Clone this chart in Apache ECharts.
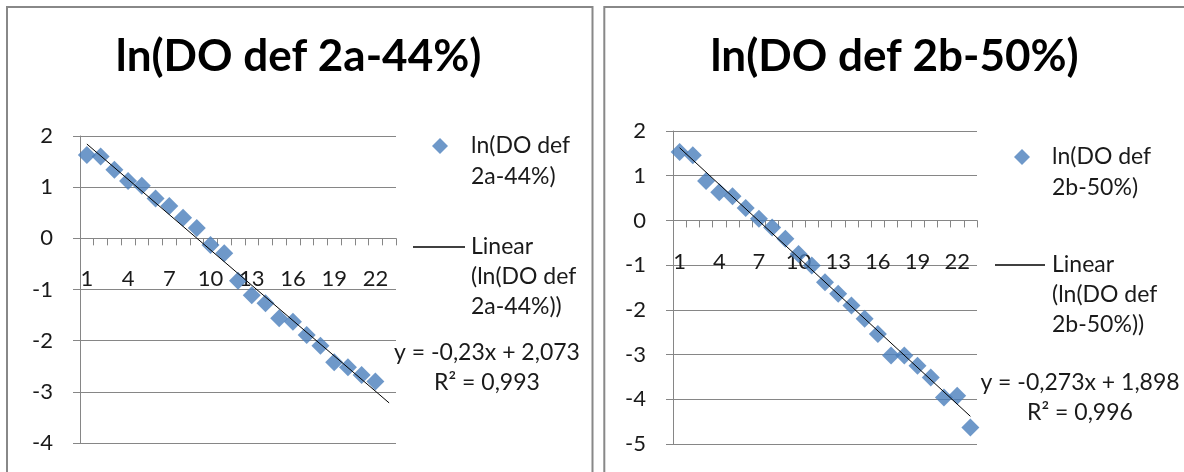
<!DOCTYPE html>
<html>
<head>
<meta charset="utf-8">
<script src="https://cdn.jsdelivr.net/npm/echarts@6/dist/echarts.min.js"></script>
<style>html,body{margin:0;padding:0;background:#fff}#c{width:1184px;height:472px}</style>
</head>
<body>
<div id="c"></div>
<script>
// ---- data ----
const categories = ['1','2','3','4','5','6','7','8','9','10','11','12','13','14','15','16','17','18','19','20','21','22','23'];
const titleA = 'ln(DO def 2a-44%)';
const titleB = 'ln(DO def 2b-50%)';
const seriesNameA = 'ln(DO def\n2a-44%)';
const seriesNameB = 'ln(DO def\n2b-50%)';
const trendNameA = 'Linear\n(ln(DO def\n2a-44%))';
const trendNameB = 'Linear\n(ln(DO def\n2b-50%))';
const valuesA = [1.63, 1.60, 1.34, 1.12, 1.03, 0.78, 0.63, 0.40, 0.20, -0.13, -0.29, -0.83, -1.11, -1.27, -1.56, -1.63, -1.89, -2.10, -2.42, -2.52, -2.67, -2.80];
const valuesB = [1.53, 1.46, 0.88, 0.63, 0.54, 0.28, 0.04, -0.16, -0.41, -0.75, -1.01, -1.38, -1.64, -1.90, -2.20, -2.54, -3.02, -3.02, -3.25, -3.51, -3.96, -3.92, -4.63];
const trendA = [['1', 1.843], ['23', -3.217]];
const trendB = [['1', 1.625], ['23', -4.381]];
const equationA = 'y = -0,23x + 2,073\nR² = 0,993';
const equationB = 'y = -0,273x + 1,898\nR² = 0,996';
const yRangeA = [-4, 2];
const yRangeB = [-5, 2];

// ---- styles / layout ----
const FONT = 'Lato';
const GRAY = '#868686';
const BLUE = '#4A7EBB';
const TXT = '#1a1a1a';
const gridA = { left: 80, top: 136, width: 316, height: 307 };
const gridB = { left: 673, top: 131, width: 304, height: 313 };

function zeroOffset(grid, range) {
  // distance from the grid bottom to the y = 0 line (negative = upward)
  return -grid.height * (0 - range[0]) / (range[1] - range[0]);
}
function xAxisFor(gridIndex, grid, range) {
  return {
    type: 'category', gridIndex, data: categories, boundaryGap: true,
    position: 'bottom', offset: zeroOffset(grid, range),
    axisLine: { onZero: false, lineStyle: { color: GRAY, width: 1 } },
    axisTick: { show: true, interval: 0, length: 7, lineStyle: { color: GRAY } },
    axisLabel: { interval: 2, margin: 30, color: TXT, fontFamily: FONT, fontSize: 22 },
    splitLine: { show: false }
  };
}
function yAxisFor(gridIndex, range) {
  return {
    type: 'value', gridIndex, min: range[0], max: range[1], interval: 1,
    axisLine: { show: true, lineStyle: { color: GRAY, width: 1 } },
    axisTick: { show: true, length: 7, lineStyle: { color: GRAY } },
    axisLabel: { margin: 27, color: TXT, fontFamily: FONT, fontSize: 22 },
    splitLine: { show: true, lineStyle: { color: GRAY, width: 1 } }
  };
}
function legendItem(name, icon, left, top, w, h, lines, padLeft, lh) {
  let lead = '';
  for (let k = 1; k < lines; k++) lead += '\n';
  return {
    left, top, padding: 0, orient: 'vertical', itemWidth: w, itemHeight: h,
    selectedMode: false,
    formatter: n => lead + n,
    data: [{ name, icon, textStyle: { padding: [0, 0, 0, padLeft] } }],
    textStyle: { fontFamily: FONT, fontSize: 23, color: TXT, lineHeight: lh }
  };
}

const chart = echarts.init(document.getElementById('c'), null, { renderer: 'canvas' });
chart.setOption({
  backgroundColor: '#fff',
  animation: false,
  title: [
    { text: titleA, left: 293.5, top: 30, textAlign: 'center',
      textStyle: { fontFamily: FONT, fontWeight: 'bold', fontSize: 44, color: '#000' } },
    { text: titleB, left: 889.5, top: 30, textAlign: 'center',
      textStyle: { fontFamily: FONT, fontWeight: 'bold', fontSize: 44, color: '#000' } }
  ],
  grid: [gridA, gridB],
  xAxis: [xAxisFor(0, gridA, yRangeA), xAxisFor(1, gridB, yRangeB)],
  yAxis: [yAxisFor(0, yRangeA), yAxisFor(1, yRangeB)],
  legend: [
    legendItem(seriesNameA, 'diamond', 432, 99.5, 16, 16, 2, 18, 31),
    legendItem(trendNameA, 'rect', 413, 172, 52, 1.5, 3, 1, 30),
    legendItem(seriesNameB, 'diamond', 1014, 110.5, 16, 16, 2, 17, 31),
    legendItem(trendNameB, 'rect', 995, 190, 50, 1.5, 3, 2, 30)
  ],
  series: [
    { name: seriesNameA, type: 'scatter', xAxisIndex: 0, yAxisIndex: 0,
      symbol: 'diamond', symbolSize: 18, itemStyle: { color: BLUE },
      data: valuesA.map((v, i) => [categories[i], v]), z: 2 },
    { name: trendNameA, type: 'line', xAxisIndex: 0, yAxisIndex: 0,
      symbol: 'none', color: '#000', itemStyle: { color: '#000' },
      lineStyle: { color: '#000', width: 1 }, data: trendA, z: 3 },
    { name: seriesNameB, type: 'scatter', xAxisIndex: 1, yAxisIndex: 1,
      symbol: 'diamond', symbolSize: 18, itemStyle: { color: BLUE },
      data: valuesB.map((v, i) => [categories[i], v]), z: 2 },
    { name: trendNameB, type: 'line', xAxisIndex: 1, yAxisIndex: 1,
      symbol: 'none', color: '#000', itemStyle: { color: '#000' },
      lineStyle: { color: '#000', width: 1 }, data: trendB, z: 3 }
  ],
  graphic: [
    { type: 'rect', shape: { x: 7, y: 7, width: 585.5, height: 520 }, silent: true,
      style: { fill: 'none', stroke: '#888', lineWidth: 2 }, z: 0 },
    { type: 'rect', shape: { x: 604.3, y: 7, width: 620, height: 520 }, silent: true,
      style: { fill: 'none', stroke: '#888', lineWidth: 2 }, z: 0 },
    { type: 'text', x: 487, y: 338, silent: true,
      style: { text: equationA, fontFamily: FONT, fontSize: 23, fill: TXT, align: 'center', lineHeight: 30 } },
    { type: 'text', x: 1080, y: 368, silent: true,
      style: { text: equationB, fontFamily: FONT, fontSize: 23, fill: TXT, align: 'center', lineHeight: 30 } }
  ]
});
</script>
</body>
</html>
